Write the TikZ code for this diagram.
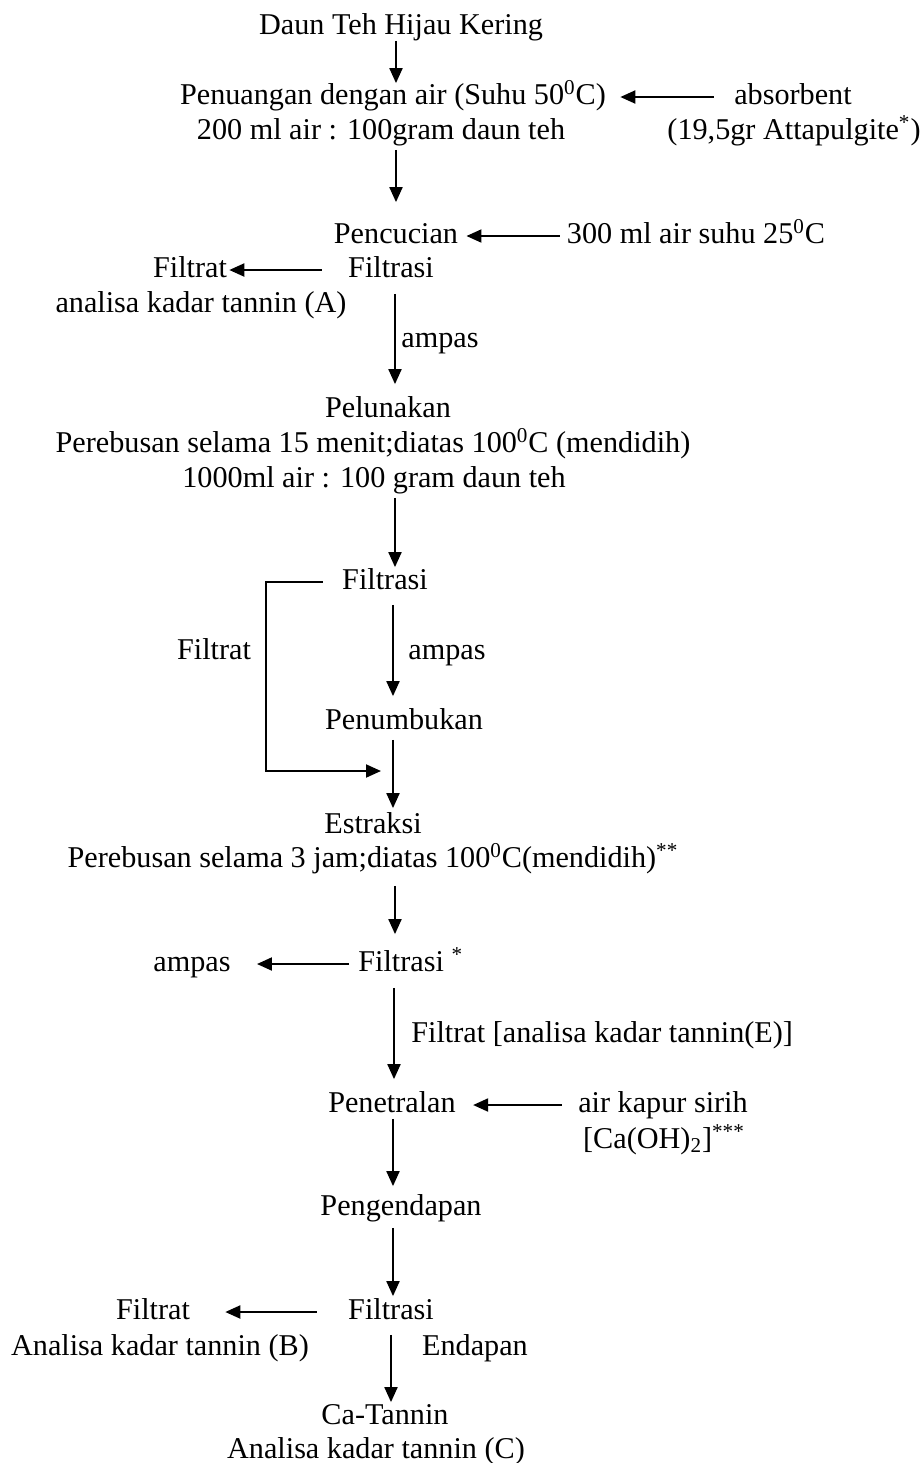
\documentclass[tikz,border=0pt]{standalone}
\usepackage{fontspec}
\setmainfont{Liberation Serif}
\usetikzlibrary{arrows.meta,calc}
\begin{document}
\begin{tikzpicture}[x=0.5pt,y=-0.5pt,
  lbl/.style={inner sep=0pt, font=\fontsize{15.1}{17.5}\selectfont, text height=10.5pt, text depth=3pt},
  arr/.style={line width=1pt, -{Triangle[length=7.5pt,width=6.5pt]}},
  ln/.style={line width=1pt}]
\useasboundingbox[fill=white] (0,0) rectangle (923,1463);
% nodes
\node[lbl] (daun) at (401,27) {Daun Teh Hijau Kering};
\node[lbl] (pena) at (393,97) {Penuangan dengan air (Suhu 50\textsuperscript{0}C)};
\node[lbl] (penb) at (381,132) {200 ml air : 100gram daun teh};
\node[lbl] (abs) at (793,97) {absorbent};
\node[lbl] (absb) at (794,132) {(19,5gr Attapulgite\textsuperscript{*})};
\node[lbl] (pencuc) at (396,236) {Pencucian};
\node[lbl] (air300) at (696,236) {300 ml air suhu 25\textsuperscript{0}C};
\node[lbl] (filtA) at (190,270) {Filtrat};
\node[lbl] (filtrasi1) at (391,270) {Filtrasi};
\node[lbl] (anA) at (201,305) {analisa kadar tannin (A)};
\node[lbl] (ampas1) at (440,340) {ampas};
\node[lbl] (pelun) at (388,410) {Pelunakan};
\node[lbl] (pereb1) at (373,445) {Perebusan selama 15 menit;diatas 100\textsuperscript{0}C (mendidih)};
\node[lbl] (ml1000) at (374,480) {1000ml air : 100 gram daun teh};
\node[lbl] (filtrasi2) at (385,582) {Filtrasi};
\node[lbl] (filtrat2) at (214,652) {Filtrat};
\node[lbl] (ampas2) at (447,652) {ampas};
\node[lbl] (penumb) at (404,722) {Penumbukan};
\node[lbl] (estr) at (373,826) {Estraksi};
\node[lbl] (pereb2) at (373,860) {Perebusan selama 3 jam;diatas 100\textsuperscript{0}C(mendidih)\textsuperscript{**}};
\node[lbl] (ampas3) at (192,964) {ampas};
\node[lbl,anchor=west] (filtrasi3) at (358,964) {Filtrasi \textsuperscript{*}};
\node[lbl,anchor=west] (filtE) at (411,1035) {Filtrat [analisa kadar tannin(E)]};
\node[lbl] (penet) at (392,1105) {Penetralan};
\node[lbl] (kapur) at (663,1105) {air kapur sirih};
\node[lbl] (caoh) at (664,1141) {[Ca(OH)\textsubscript{2}]\textsuperscript{***}};
\node[lbl] (pengend) at (401,1208) {Pengendapan};
\node[lbl] (filtB) at (153,1312) {Filtrat};
\node[lbl] (filtrasi4) at (391,1312) {Filtrasi};
\node[lbl] (anB) at (160,1348) {Analisa kadar tannin (B)};
\node[lbl] (endap) at (475,1348) {Endapan};
\node[lbl] (catan) at (385,1417) {Ca-Tannin};
\node[lbl] (anC) at (376,1451) {Analisa kadar tannin (C)};
\coordinate (loopc) at (266,771);
\coordinate (merge) at (381,771);
% connectors
\draw[arr] (daun.south -| 396,0) -- (pena.north -| 396,0);
\draw[arr, shorten <=10pt, shorten >=7pt] (abs.west) -- (pena.east);
\draw[arr, shorten <=2pt, shorten >=10pt] (penb.south -| 396,0) -- (pencuc.north -| 396,0);
\draw[arr, shorten <=3.5pt, shorten >=4pt] (air300.west) -- (pencuc.east);
\draw[arr, shorten <=13pt, shorten >=1pt] (filtrasi1.west) -- (filtA.east);
\draw[arr, shorten <=5pt, shorten >=6pt] (filtrasi1.south -| 395,0) -- (pelun.north -| 395,0);
\draw[arr, shorten <=2pt, shorten >=0.5pt] (ml1000.south -| 395,0) -- (filtrasi2.north -| 395,0);
\draw[arr, shorten <=9.5pt] (filtrasi2.west) -| (loopc) -- (merge);
\draw[arr, shorten <=4.5pt, shorten >=6pt] (filtrasi2.south -| 393,0) -- (penumb.north -| 393,0);
\draw[arr, shorten <=2pt, shorten >=2pt] (penumb.south -| 393,0) -- (estr.north -| 393,0);
\draw[arr, shorten <=6pt, shorten >=8pt] (pereb2.south -| 395,0) -- (filtrasi3.north -| 395,0);
\draw[arr, shorten <=4.5pt, shorten >=13pt] (filtrasi3.west) -- (ampas3.east);
\draw[arr, shorten <=5pt, shorten >=6pt] (filtrasi3.south -| 394,0) -- (penet.north -| 394,0);
\draw[arr, shorten <=8pt, shorten >=8.5pt] (kapur.west) -- (penet.east);
\draw[arr, shorten >=4pt] (penet.south -| 393,0) -- (pengend.north -| 393,0);
\draw[arr, shorten <=3pt, shorten >=1pt] (pengend.south -| 393,0) -- (filtrasi4.north -| 393,0);
\draw[arr, shorten <=15.5pt, shorten >=17.5pt] (filtrasi4.west) -- (filtB.east);
\draw[arr, shorten <=4.5pt, shorten >=0.5pt] (filtrasi4.south -| 391,0) -- (catan.north -| 391,0);
\end{tikzpicture}
\end{document}
